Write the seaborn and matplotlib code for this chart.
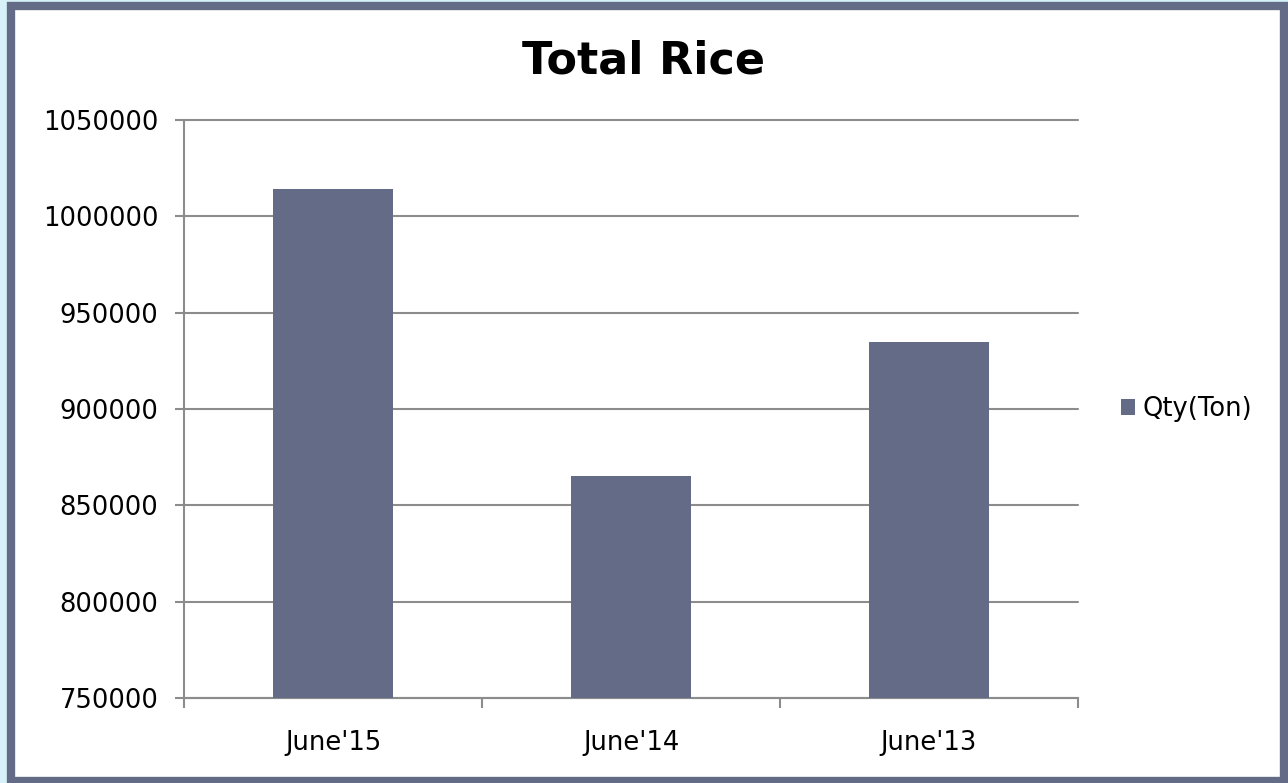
import pandas as pd
import matplotlib.pyplot as plt
import matplotlib.patches as mpatches
import matplotlib.ticker as mticker
import seaborn as sns

# Chart data
months = ["June'15", "June'14", "June'13"]
qty_ton = [1014000, 865000, 935000]
series_name = 'Qty(Ton)'

df = pd.DataFrame({'Month': months, 'Qty': qty_ton})

sns.set_style('white')
plt.rcParams['font.family'] = ['DejaVu Sans']

bar_color = '#646b86'
grid_color = '#8c8c8c'

fig = plt.figure(figsize=(12.88, 7.83), dpi=100)
fig.patch.set_facecolor('#d6f1f8')

# white chart panel with slate border
panel = mpatches.Rectangle((11 / 1288, 2 / 783), 1273 / 1288, 775 / 783,
                           transform=fig.transFigure, facecolor='white',
                           edgecolor=bar_color, linewidth=6, zorder=-10)
fig.patches.append(panel)

ax = fig.add_axes([184 / 1288, 1 - 698 / 783, (1078 - 184) / 1288, (698 - 120) / 783])
ax.set_facecolor('none')
ax.set_zorder(1)

sns.barplot(data=df, x='Month', y='Qty', color=bar_color, width=0.4,
            saturation=1, ax=ax, label=series_name, linewidth=0, zorder=3)

ax.set_ylim(750000, 1050000)
ax.set_yticks(range(750000, 1050001, 50000))
ax.yaxis.set_major_formatter(mticker.FuncFormatter(lambda v, p: f'{int(v)}'))
ax.set_xlim(-0.5, 2.5)
ax.set_xlabel('')
ax.set_ylabel('')

ax.yaxis.grid(True, color=grid_color, linewidth=1.5, clip_on=False)
ax.set_axisbelow(True)
for side in ['top', 'right']:
    ax.spines[side].set_visible(False)
for side in ['left', 'bottom']:
    ax.spines[side].set_color(grid_color)
    ax.spines[side].set_linewidth(1.5)

# tick marks at category boundaries, labels in the middle
ax.set_xticks([-0.5, 0.5, 1.5, 2.5], minor=True)
ax.tick_params(axis='x', which='minor', bottom=True, length=7, width=1.5,
               color=grid_color, direction='out')
ax.tick_params(axis='x', which='major', bottom=False, length=0, pad=23,
               labelsize=18.5, labelcolor='black')
ax.tick_params(axis='y', left=True, length=6.5, width=1.5, color=grid_color,
               direction='out', pad=12, labelsize=18.5, labelcolor='black')

fig.text(0.5, 1 - 61 / 783, 'Total Rice', ha='center', va='center',
         fontsize=32, fontweight='bold', color='black')

leg = ax.legend(loc='center left', bbox_to_anchor=(1.022, 0.5), frameon=False,
                fontsize=18.5, handlelength=0.55, handleheight=0.55, handletextpad=0.3,
                labelcolor='black')

fig.savefig('out.png', dpi=100, facecolor=fig.get_facecolor())
